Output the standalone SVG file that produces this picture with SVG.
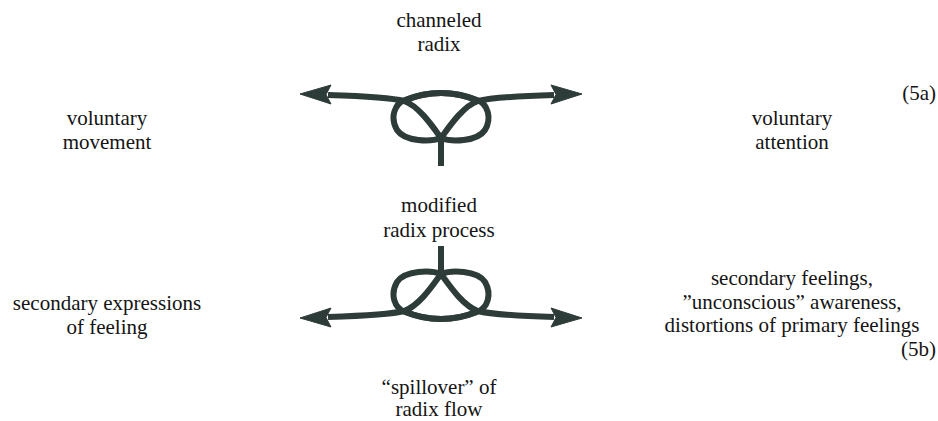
<svg xmlns="http://www.w3.org/2000/svg" xmlns:xlink="http://www.w3.org/1999/xlink" width="938" height="421" viewBox="0 0 938 421">
  <style>
    .lbl { font-family: "Liberation Serif", "Times New Roman", "DejaVu Serif", serif; font-size: 21px; fill: #141414; }
    .mid { text-anchor: middle; }
    .end { text-anchor: end; }
    .strand { fill: none; stroke: #2e3c39; stroke-width: 6; stroke-linejoin: round; }
    .head { fill: #2e3c39; stroke: #2e3c39; stroke-width: 1; stroke-linejoin: round; }
  </style>
  <defs>
    <!-- one half of the looped glyph: arrow line, tent arm, opposite loop and bottom arc -->
    <g id="half">
      <path class="strand" d="M -113,44 C -82,43 -52,42 -37,38 C -22,33 -8,12 0,1 C 10,-3 36,-3 44,9 C 51,21 47,35 36,39 C 26,43 12,46 0,46 C -12,46 -26,43 -37,38"/>
      <path class="head" d="M -141,45 L -110,35 L -115,44.5 L -110,54 Z"/>
    </g>
    <!-- full glyph: both halves plus the stem, apex at the origin -->
    <g id="glyph">
      <use xlink:href="#half"/>
      <use xlink:href="#half" transform="scale(-1,1)"/>
      <path class="strand" d="M 0,2 L 0,-27"/>
    </g>
  </defs>

  <!-- (5a): channeled radix -->
  <g id="fig-5a">
    <use xlink:href="#glyph" transform="translate(441,139) scale(1,-1)"/>
  </g>
  <g id="label-channeled">
    <text class="lbl mid" x="439" y="27">channeled</text>
    <text class="lbl mid" x="439" y="51">radix</text>
  </g>
  <g id="label-movement">
    <text class="lbl mid" x="107" y="125">voluntary</text>
    <text class="lbl mid" x="107" y="149">movement</text>
  </g>
  <g id="label-attention">
    <text class="lbl mid" x="792" y="125">voluntary</text>
    <text class="lbl mid" x="792" y="149">attention</text>
  </g>
  <text class="lbl end" x="936" y="100">(5a)</text>

  <!-- (5b): modified radix process -->
  <g id="label-modified">
    <text class="lbl mid" x="439" y="212">modified</text>
    <text class="lbl mid" x="439" y="237">radix process</text>
  </g>
  <g id="fig-5b">
    <use xlink:href="#glyph" transform="translate(441,273)"/>
  </g>
  <g id="label-expressions">
    <text class="lbl mid" x="107" y="310">secondary expressions</text>
    <text class="lbl mid" x="107" y="334">of feeling</text>
  </g>
  <g id="label-feelings">
    <text class="lbl mid" x="792" y="285">secondary feelings,</text>
    <text class="lbl mid" x="792" y="309">”unconscious” awareness,</text>
    <text class="lbl mid" x="792" y="332">distortions of primary feelings</text>
  </g>
  <text class="lbl end" x="936" y="356">(5b)</text>
  <g id="label-spillover">
    <text class="lbl mid" x="439" y="394">“spillover” of</text>
    <text class="lbl mid" x="439" y="416">radix flow</text>
  </g>
</svg>
